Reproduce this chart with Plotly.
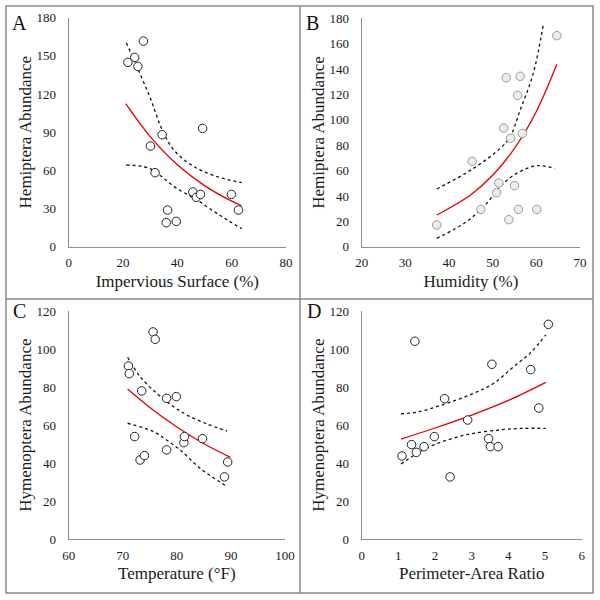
import plotly.graph_objects as go

# ---------------- data ----------------
# Panel A: Hemiptera abundance vs impervious surface
a_x = [21.8, 24.3, 25.5, 27.5, 30.1, 31.8, 34.4, 36.4, 35.9, 39.6, 45.7, 47.0, 48.5, 49.3, 59.9, 62.5]
a_y = [144.9, 148.8, 141.7, 161.6, 79.1, 58.2, 88.0, 28.8, 18.9, 19.9, 43.0, 38.8, 41.1, 93.0, 41.1, 28.8]
a_fit_x = [21.0, 30.0, 40.0, 50.0, 60.0, 63.7]
a_fit_y = [112.4, 86.5, 64.4, 48.0, 35.8, 32.2]
a_up_x = [21.2, 25.0, 30.0, 34.4, 38.7, 46.1, 54.7, 63.7]
a_up_y = [160.3, 142.0, 117.0, 92.0, 76.0, 63.0, 55.0, 50.3]
a_lo_x = [21.2, 27.5, 31.2, 34.8, 39.7, 44.6, 48.5, 54.7, 63.7]
a_lo_y = [64.2, 63.0, 60.0, 54.0, 46.0, 40.0, 35.0, 26.0, 14.1]

# Panel B: Hemiptera abundance vs humidity
b_x = [37.2, 45.3, 47.3, 50.9, 51.4, 52.5, 53.1, 53.7, 54.1, 55.0, 55.7, 55.9, 56.3, 56.8, 60.1, 64.7]
b_y = [17.1, 67.3, 29.4, 42.6, 50.2, 93.5, 133.2, 21.3, 85.4, 48.1, 119.3, 29.4, 134.3, 89.3, 29.4, 166.3]
b_fit_x = [37.2, 45.0, 50.0, 55.0, 60.0, 64.7]
b_fit_y = [25.0, 41.0, 56.3, 77.5, 106.6, 143.7]
b_up_x = [37.2, 45.6, 51.7, 54.0, 56.3, 59.3, 61.6]
b_up_y = [45.5, 61.7, 77.5, 86.7, 107.7, 136.6, 175.2]
b_lo_x = [37.2, 44.0, 48.6, 51.7, 55.5, 60.1, 64.3]
b_lo_y = [6.6, 19.7, 34.0, 47.3, 57.8, 63.8, 61.7]

# Panel C: Hymenoptera abundance vs temperature
c_x = [71.05, 71.2, 72.2, 73.5, 73.2, 74.0, 75.6, 76.0, 78.1, 78.1, 79.9, 81.3, 81.4, 84.75, 88.8, 89.4]
c_y = [91.1, 87.1, 54.0, 78.0, 41.7, 44.0, 109.0, 105.1, 74.1, 47.0, 75.0, 50.8, 54.0, 52.9, 32.8, 40.6]
c_fit_x = [70.9, 75.0, 80.0, 85.0, 89.9]
c_fit_y = [79.0, 69.3, 59.0, 50.2, 43.1]
c_up_x = [70.9, 73.2, 76.3, 79.4, 81.9, 85.6, 89.3]
c_up_y = [95.7, 85.5, 76.7, 69.7, 65.3, 60.6, 56.9]
c_lo_x = [70.9, 75.7, 78.1, 80.6, 84.3, 89.3]
c_lo_y = [61.0, 56.6, 52.2, 47.0, 37.3, 27.7]

# Panel D: Hymenoptera abundance vs perimeter-area ratio
d_x = [1.10, 1.36, 1.45, 1.49, 1.70, 1.98, 2.26, 2.41, 2.89, 3.46, 3.51, 3.55, 3.72, 4.61, 4.83, 5.09]
d_y = [43.8, 49.8, 104.1, 45.7, 48.7, 54.0, 73.9, 32.8, 62.7, 52.9, 48.7, 92.0, 48.7, 89.2, 69.0, 113.0]
d_fit_x = [1.07, 2.0, 3.0, 4.0, 5.02]
d_fit_y = [52.7, 58.5, 65.3, 73.0, 82.5]
d_up_x = [1.07, 1.5, 2.14, 3.05, 3.6, 4.14, 4.6, 5.02]
d_up_y = [66.0, 66.8, 70.3, 76.7, 82.0, 90.7, 98.0, 107.4]
d_lo_x = [1.07, 1.5, 1.95, 2.86, 3.77, 4.4, 5.02]
d_lo_y = [39.6, 45.0, 49.5, 55.0, 57.5, 58.3, 58.3]

panel_letters = ["A", "B", "C", "D"]
x_titles = ["Impervious Surface (%)", "Humidity (%)", "Temperature (°F)", "Perimeter-Area Ratio"]
y_titles = ["Hemiptera Abundance", "Hemiptera Abundance", "Hymenoptera Abundance", "Hymenoptera Abundance"]
x_ranges = [[0, 80], [20, 70], [60, 100], [0, 6]]
x_dticks = [20, 10, 10, 1]
y_ranges = [[0, 180], [0, 180], [0, 120], [0, 120]]
y_dticks = [30, 20, 20, 20]

# ---------------- figure ----------------
W = H = 600
FONT = "Liberation Serif, Times New Roman, serif"
AXIS_COL = "#8c8c8c"
TXT = "#1a1a1a"
TICKFONT = dict(family=FONT, size=13, color=TXT)
TITLEFONT = dict(family=FONT, size=17, color=TXT)

def px(v):
    return v / W

def py(v):
    return 1 - v / H

panels = [
    (a_x, a_y, a_fit_x, a_fit_y, a_up_x, a_up_y, a_lo_x, a_lo_y, "white", "#222222"),
    (b_x, b_y, b_fit_x, b_fit_y, b_up_x, b_up_y, b_lo_x, b_lo_y, "#ececec", "#9a9a9a"),
    (c_x, c_y, c_fit_x, c_fit_y, c_up_x, c_up_y, c_lo_x, c_lo_y, "white", "#222222"),
    (d_x, d_y, d_fit_x, d_fit_y, d_up_x, d_up_y, d_lo_x, d_lo_y, "white", "#222222"),
]

# plot areas in pixels: (left, right, top, bottom)
areas = [
    (68.7, 286.0, 17.7, 246.7),
    (361.7, 580.0, 18.3, 246.7),
    (68.7, 285.0, 311.0, 539.3),
    (361.7, 581.7, 311.0, 539.3),
]
letter_pos = [(19, 23), (313, 23), (19, 311), (314, 311)]

fig = go.Figure()
fig.update_layout(width=W, height=H, margin=dict(l=0, r=0, t=0, b=0, pad=0),
                  paper_bgcolor="white", plot_bgcolor="white",
                  font=dict(family=FONT, size=13, color=TXT))

for i, (xs, ys, fx, fy, ux, uy, lx, ly, mfill, mline) in enumerate(panels):
    n = "" if i == 0 else str(i + 1)
    xa, ya = "x" + n, "y" + n
    fig.add_trace(go.Scatter(x=ux, y=uy, xaxis=xa, yaxis=ya, mode="lines",
                             line=dict(color="#111111", width=1.3, dash="3px,3px", shape="spline"),
                             showlegend=False, hoverinfo="skip"))
    fig.add_trace(go.Scatter(x=lx, y=ly, xaxis=xa, yaxis=ya, mode="lines",
                             line=dict(color="#111111", width=1.3, dash="3px,3px", shape="spline"),
                             showlegend=False, hoverinfo="skip"))
    fig.add_trace(go.Scatter(x=fx, y=fy, xaxis=xa, yaxis=ya, mode="lines",
                             line=dict(color="#e00000", width=1.3, shape="spline"),
                             showlegend=False, hoverinfo="skip"))
    fig.add_trace(go.Scatter(x=xs, y=ys, xaxis=xa, yaxis=ya, mode="markers",
                             marker=dict(symbol="circle", size=8.5, color=mfill,
                                         line=dict(color=mline, width=1)),
                             showlegend=False))
    l, r, t, b = areas[i]
    fig.layout["xaxis" + n] = go.layout.XAxis(
        domain=[px(l), px(r)], anchor=ya, range=x_ranges[i], dtick=x_dticks[i], tick0=0,
        automargin=False,
        showgrid=False, zeroline=False, showline=True, linecolor=AXIS_COL, linewidth=1,
        ticks="", ticklabelstandoff=4, tickfont=TICKFONT,
        title=dict(text=x_titles[i], font=TITLEFONT, standoff=5),
    )
    fig.layout["yaxis" + n] = go.layout.YAxis(
        domain=[py(b), py(t)], anchor=xa, range=y_ranges[i], dtick=y_dticks[i], tick0=0,
        automargin=False,
        showgrid=False, zeroline=False, showline=True, linecolor=AXIS_COL, linewidth=1,
        ticks="", ticklabelstandoff=9, tickfont=TICKFONT,
        title=dict(text=y_titles[i], font=TITLEFONT, standoff=0),
    )

annotations = []
for i, (lxp, lyp) in enumerate(letter_pos):
    annotations.append(dict(text=panel_letters[i], x=px(lxp), y=py(lyp), xref="paper", yref="paper",
                            showarrow=False, xanchor="center", yanchor="middle",
                            font=dict(family=FONT, size=20, color="#111111")))

BORDER = "#8a8a8a"
shapes = [
    dict(type="rect", xref="paper", yref="paper", x0=px(6), x1=px(593), y0=py(593), y1=py(6),
         line=dict(color=BORDER, width=1.5), fillcolor="rgba(0,0,0,0)", layer="above"),
    dict(type="line", xref="paper", yref="paper", x0=px(300), x1=px(300), y0=py(593), y1=py(6),
         line=dict(color=BORDER, width=1.5), layer="above"),
    dict(type="line", xref="paper", yref="paper", x0=px(6), x1=px(593), y0=py(299), y1=py(299),
         line=dict(color=BORDER, width=1.5), layer="above"),
]

fig.update_layout(annotations=annotations, shapes=shapes)

fig.write_html(
    "out.html",
    config={"displayModeBar": False},
    post_script="document.body.style.margin='0';document.body.style.padding='0';",
)
